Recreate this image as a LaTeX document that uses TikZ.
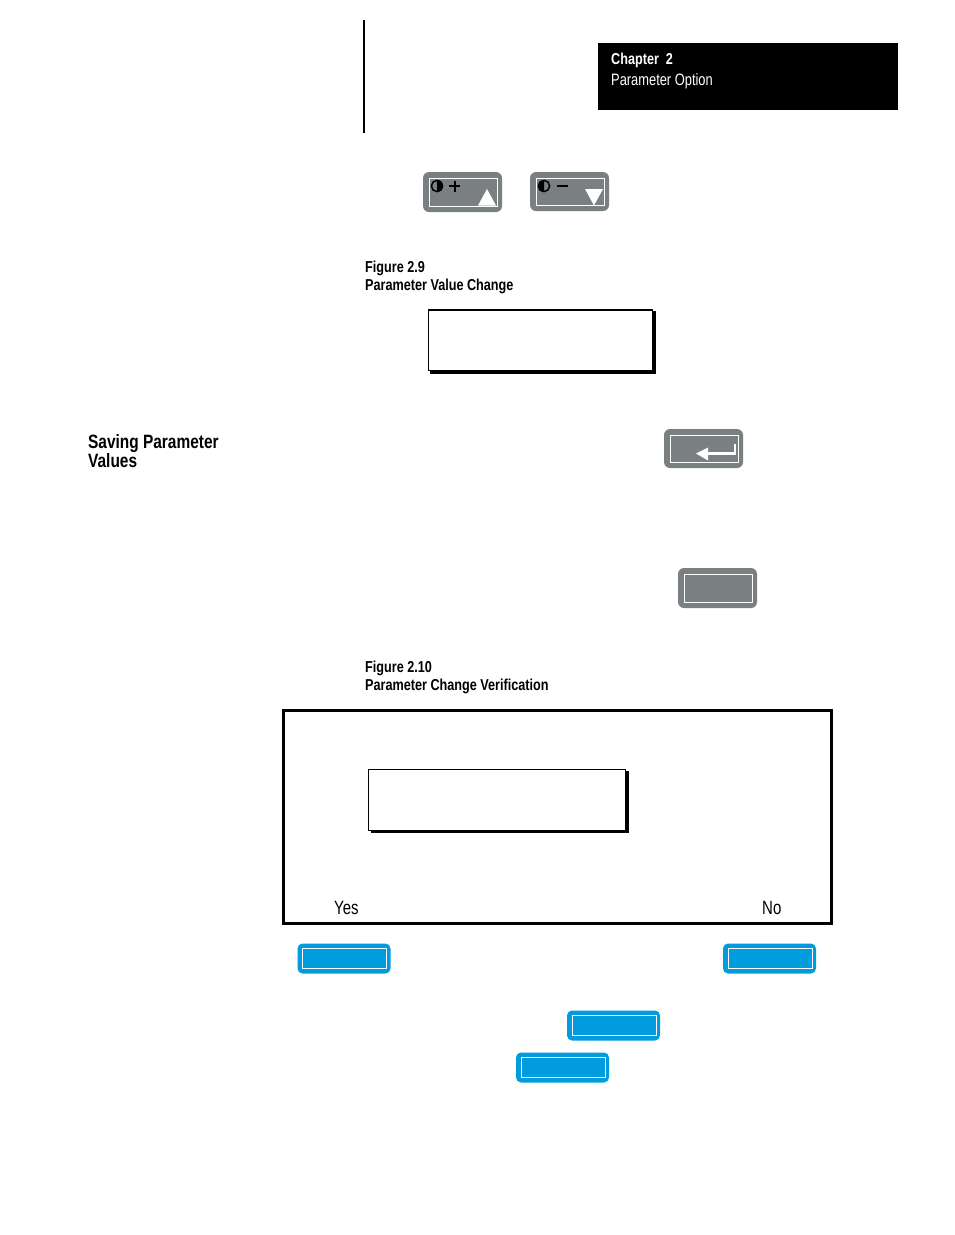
\documentclass[tikz,border=0pt]{standalone}
\usepackage{fontspec}
\setmainfont{Liberation Sans}
\newfontfamily\cond[FakeStretch=0.78]{Liberation Sans}
\newfontfamily\condb[FakeStretch=0.80]{Liberation Sans Bold}
\definecolor{keygray}{RGB}{122,127,130}
\definecolor{keyblue}{RGB}{0,156,222}
\tikzset{
  x=1pt,y=-1pt,
  graykey/.style={fill=keygray,rounded corners=6pt,draw=none},
  bluekey/.style={fill=keyblue,rounded corners=5pt,draw=none},
  keyface/.style={draw=white,line width=0.9pt},
  display/.style={draw=black,line width=1.3pt,fill=white},
  shadowline/.style={draw=black,line width=3pt},
  caption/.style={inner sep=0pt,anchor=base west,font=\condb\fontsize{15.8}{17}\selectfont},
  heading/.style={inner sep=0pt,anchor=base west,font=\condb\fontsize{19.3}{20}\selectfont},
  plain/.style={inner sep=0pt,anchor=base west,font=\cond\fontsize{19.2}{20}\selectfont},
  tabtext/.style={inner sep=0pt,anchor=base west,text=white,font=\cond\fontsize{16.5}{18}\selectfont},
}
\newcommand{\graykeybox}[4]{%
  \fill[graykey] (#1,#2) rectangle (#3,#4);
  \draw[keyface] (#1+6,#2+6) rectangle (#3-5,#4-6);}
\newcommand{\bluekeybox}[2]{%
  \fill[bluekey] (#1,#2) rectangle (#1+93,#2+30);
  \draw[keyface] (#1+5,#2+5) rectangle (#1+89,#2+25);}
\begin{document}
\begin{tikzpicture}
\useasboundingbox (0,0) rectangle (954,1235);
% change bar and chapter tab
\draw[line width=1.5pt] (364,20) -- (364,133);
\fill[black] (598,43) rectangle (898,110);
\node[caption,text=white] (chapter) at (611,64) {Chapter\ \ 2};
\node[tabtext] (option) at (611,85) {Parameter Option};
% plus / minus keys
\graykeybox{423}{172}{502}{212}
\graykeybox{530}{172}{609}{211}
\draw[line width=1.5pt] (437,186) circle (5.6);
\fill[black] (437,192) arc (90:-90:6) -- cycle;
\draw[line width=2pt] (449,186) -- (460,186) (454.5,180.5) -- (454.5,191.5);
\fill[white] (478,205.5) -- (487,189) -- (496,205.5) -- cycle;
\draw[line width=1.5pt] (544,186) circle (5.6);
\fill[black] (544,192) arc (90:270:6) -- cycle;
\draw[line width=2pt] (557,186) -- (568,186);
\fill[white] (585,189) -- (603,189) -- (594,205.5) -- cycle;
% figure 2.9
\node[caption] (fig9) at (365,272) {Figure 2.9};
\node[caption] (fig9t) at (365,290) {Parameter Value Change};
\draw[shadowline] (430,372) -- (654,372) -- (654,311);
\draw[display] (428.7,310) rectangle (652.5,370.5);
% saving heading
\node[heading] (save1) at (88,448) {Saving Parameter};
\node[heading] (save2) at (88,467) {Values};
% enter key
\graykeybox{664}{429}{743}{468}
\draw[white,line width=2.2pt] (735,444) -- (735,453.5) -- (706,453.5);
\fill[white] (696,453.5) -- (708,447.5) -- (708,460.5) -- cycle;
% blank key
\graykeybox{678}{568}{757}{608}
% figure 2.10
\node[caption] (fig10) at (365,672) {Figure 2.10};
\node[caption] (fig10t) at (365,690) {Parameter Change Verification};
\draw[draw=black,line width=2.5pt] (283.5,710.5) rectangle (831.5,923.5);
\draw[shadowline] (371,831.5) -- (627,831.5) -- (627,771);
\draw[display,line width=1pt] (368.5,769.5) rectangle (625.5,830);
\node[plain] (yes) at (334,914.5) {Yes};
\node[plain] (no) at (762,914.5) {No};
% blue keys
\bluekeybox{297.5}{943.5}
\bluekeybox{723}{943.5}
\bluekeybox{567}{1010.5}
\bluekeybox{516}{1052.5}
\end{tikzpicture}
\end{document}
